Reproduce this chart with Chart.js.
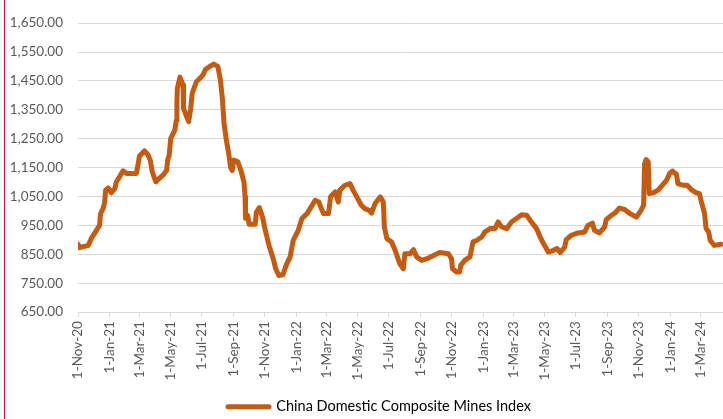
<!DOCTYPE html>
<html>
<head>
<meta charset="utf-8">
<script src="https://cdn.jsdelivr.net/npm/chart.js@4"></script>
<style>
  html, body { margin: 0; padding: 0; background: #fff; }
  #wrap { position: relative; width: 723px; height: 419px; }
  #edge { position: absolute; left: 4px; top: 0; width: 1px; height: 419px; background: #c8102e; }
</style>
</head>
<body>
<div id="wrap">
  <canvas id="chart" width="723" height="419"></canvas>
  <div id="edge"></div>
</div>
<script>
const seriesName = 'China Domestic Composite Mines Index'

// index readings
const dates = [
  '2020-11-01', '2020-11-04', '2020-11-21', '2020-11-27', '2020-12-07', '2020-12-13', '2020-12-15', '2020-12-20',
  '2020-12-23', '2020-12-25', '2020-12-30', '2021-01-05', '2021-01-12', '2021-01-15', '2021-01-21', '2021-01-28',
  '2021-02-04', '2021-02-23', '2021-02-26', '2021-03-01', '2021-03-11', '2021-03-18', '2021-03-22', '2021-03-26',
  '2021-04-02', '2021-04-06', '2021-04-16', '2021-04-23', '2021-04-25', '2021-04-28', '2021-05-01', '2021-05-09',
  '2021-05-12', '2021-05-13', '2021-05-14', '2021-05-19', '2021-05-25', '2021-05-26', '2021-06-01', '2021-06-05',
  '2021-06-09', '2021-06-12', '2021-06-20', '2021-06-27', '2021-07-03', '2021-07-08', '2021-07-16', '2021-07-24',
  '2021-08-01', '2021-08-06', '2021-08-10', '2021-08-13', '2021-08-18', '2021-08-22', '2021-08-26', '2021-08-29',
  '2021-09-01', '2021-09-09', '2021-09-15', '2021-09-21', '2021-09-23', '2021-09-24', '2021-09-28', '2021-10-01',
  '2021-10-13', '2021-10-15', '2021-10-21', '2021-10-27', '2021-11-02', '2021-11-09', '2021-11-17', '2021-11-22',
  '2021-11-28', '2021-12-06', '2021-12-13', '2021-12-20', '2021-12-26', '2022-01-05', '2022-01-12', '2022-01-22',
  '2022-01-28', '2022-02-07', '2022-02-14', '2022-02-23', '2022-03-05', '2022-03-09', '2022-03-18', '2022-03-24',
  '2022-03-27', '2022-04-06', '2022-04-16', '2022-04-22', '2022-04-28', '2022-05-08', '2022-05-15', '2022-05-23',
  '2022-05-28', '2022-06-04', '2022-06-14', '2022-06-20', '2022-06-22', '2022-06-27', '2022-07-06', '2022-07-13',
  '2022-07-22', '2022-07-29', '2022-08-01', '2022-08-11', '2022-08-18', '2022-08-24', '2022-09-03', '2022-09-13',
  '2022-09-26', '2022-10-08', '2022-10-25', '2022-10-31', '2022-11-02', '2022-11-10', '2022-11-16', '2022-11-18',
  '2022-11-26', '2022-12-06', '2022-12-12', '2022-12-19', '2022-12-29', '2023-01-04', '2023-01-14', '2023-01-24',
  '2023-01-30', '2023-02-06', '2023-02-16', '2023-02-25', '2023-03-07', '2023-03-17', '2023-03-27', '2023-04-05',
  '2023-04-15', '2023-04-22', '2023-04-28', '2023-05-08', '2023-05-18', '2023-05-25', '2023-05-31', '2023-06-09',
  '2023-06-12', '2023-06-22', '2023-07-05', '2023-07-18', '2023-07-24', '2023-08-02', '2023-08-06', '2023-08-16',
  '2023-08-26', '2023-08-29', '2023-09-08', '2023-09-15', '2023-09-24', '2023-10-04', '2023-10-14', '2023-10-27',
  '2023-11-05', '2023-11-10', '2023-11-12', '2023-11-15', '2023-11-19', '2023-11-21', '2023-11-29', '2023-12-08',
  '2023-12-15', '2023-12-25', '2023-12-31', '2024-01-05', '2024-01-13', '2024-01-16', '2024-01-26', '2024-02-03',
  '2024-02-11', '2024-02-21', '2024-02-27', '2024-03-01', '2024-03-08', '2024-03-11', '2024-03-16', '2024-03-19',
  '2024-03-27', '2024-04-09'
]
const values = [
  885, 873, 881, 905, 933, 950, 991, 1008,
  1031, 1072, 1080, 1063, 1078, 1101, 1118, 1139,
  1130, 1130, 1159, 1190, 1208, 1193, 1176, 1135,
  1101, 1109, 1124, 1141, 1176, 1193, 1251, 1280,
  1315, 1372, 1424, 1463, 1436, 1355, 1326, 1309,
  1355, 1407, 1447, 1459, 1471, 1490, 1500, 1508,
  1500, 1453, 1384, 1303, 1240, 1200, 1150, 1140,
  1176, 1170, 1140, 1100, 1050, 975, 985, 954,
  954, 995, 1012, 980, 930, 880, 835, 800,
  777, 780, 815, 841, 898, 933, 974, 991,
  1008, 1037, 1031, 991, 991, 1049, 1066, 1031,
  1072, 1089, 1095, 1072, 1052, 1020, 1008, 1002,
  993, 1026, 1049, 1031, 945, 904, 893, 864,
  818, 800, 852, 852, 866, 841, 829, 835,
  846, 856, 852, 835, 800, 789, 789, 812,
  829, 841, 893, 898, 910, 927, 939, 939,
  962, 945, 939, 962, 974, 987, 985, 962,
  939, 910, 889, 858, 864, 870, 856, 875,
  901, 916, 924, 927, 950, 958, 933, 924,
  945, 970, 985, 993, 1010, 1005, 991, 979,
  1002, 1020, 1164, 1178, 1170, 1060, 1063, 1072,
  1086, 1107, 1130, 1138, 1127, 1095, 1089, 1089,
  1074, 1063, 1060, 1037, 991, 939, 927, 898,
  881, 885
]

const tickDates = [
  '2020-11-01', '2021-01-01', '2021-03-01', '2021-05-01', '2021-07-01', '2021-09-01', '2021-11-01',
  '2022-01-01', '2022-03-01', '2022-05-01', '2022-07-01', '2022-09-01', '2022-11-01',
  '2023-01-01', '2023-03-01', '2023-05-01', '2023-07-01', '2023-09-01', '2023-11-01',
  '2024-01-01', '2024-03-01'
]
const yTicks = [650, 750, 850, 950, 1050, 1150, 1250, 1350, 1450, 1550, 1650]
const monthNames = ['Jan', 'Feb', 'Mar', 'Apr', 'May', 'Jun', 'Jul', 'Aug', 'Sep', 'Oct', 'Nov', 'Dec']

const start = Date.UTC(2020, 10, 1)
function dayOf(s) {
  const [y, m, d] = s.split('-').map(Number)
  return Math.round((Date.UTC(y, m - 1, d) - start) / 86400000)
}
function dateLabel(s) {
  const [y, m, d] = s.split('-').map(Number)
  return d + '-' + monthNames[m - 1] + '-' + String(y).slice(2)
}

const points = dates.map((d, i) => ({ x: dayOf(d), y: values[i] }))
const tickText = {}
tickDates.forEach(d => { tickText[dayOf(d)] = dateLabel(d) })

const lineColor = '#C55A11'
const gridColor = '#d9d9d9'

Chart.defaults.font.family = 'Lato'
Chart.defaults.font.size = 13.5
Chart.defaults.color = '#595959'

// excel puts the legend a bit right of the middle and lower down
const nudgeLegend = {
  id: 'nudgeLegend',
  afterLayout(chart) {
    const lg = chart.legend
    lg.left += 18
    lg.right += 18
    lg.top += 5
    lg.bottom += 5
  }
}

const chart = new Chart(document.getElementById('chart'), {
  type: 'line',
  data: {
    datasets: [{
      label: seriesName,
      data: points,
      borderColor: lineColor,
      backgroundColor: lineColor,
      borderWidth: 5,
      borderJoinStyle: 'round',
      borderCapStyle: 'round',
      pointRadius: 0,
      tension: 0
    }]
  },
  options: {
    responsive: false,
    animation: false,
    layout: { padding: { top: 23, right: 0, bottom: 0, left: 0 } },
    scales: {
      x: {
        type: 'linear',
        min: 0,
        max: dayOf('2024-04-13'),
        afterBuildTicks: scale => { scale.ticks = tickDates.map(d => ({ value: dayOf(d) })) },
        grid: { drawOnChartArea: false, tickLength: 5, color: gridColor },
        border: { color: gridColor },
        ticks: {
          autoSkip: false,
          minRotation: 90,
          maxRotation: 90,
          padding: 4,
          callback: v => tickText[v]
        }
      },
      y: {
        min: 650,
        max: 1650,
        afterBuildTicks: scale => { scale.ticks = yTicks.map(v => ({ value: v })) },
        afterFit: scale => { scale.width = 78 },
        grid: { color: gridColor, drawTicks: false },
        border: { display: false },
        ticks: {
          padding: 15,
          callback: v => v.toLocaleString('en-US', { minimumFractionDigits: 2, maximumFractionDigits: 2 })
        }
      }
    },
    plugins: {
      tooltip: { enabled: false },
      legend: {
        position: 'bottom',
        labels: {
          usePointStyle: true,
          pointStyleWidth: 41,
          padding: 10,
          font: { size: 14.5 },
          generateLabels: () => [{
            text: seriesName,
            strokeStyle: lineColor,
            fillStyle: lineColor,
            lineWidth: 5,
            lineCap: 'round',
            pointStyle: 'line',
            hidden: false,
            datasetIndex: 0
          }]
        }
      }
    }
  },
  plugins: [nudgeLegend]
})
</script>
</body>
</html>
